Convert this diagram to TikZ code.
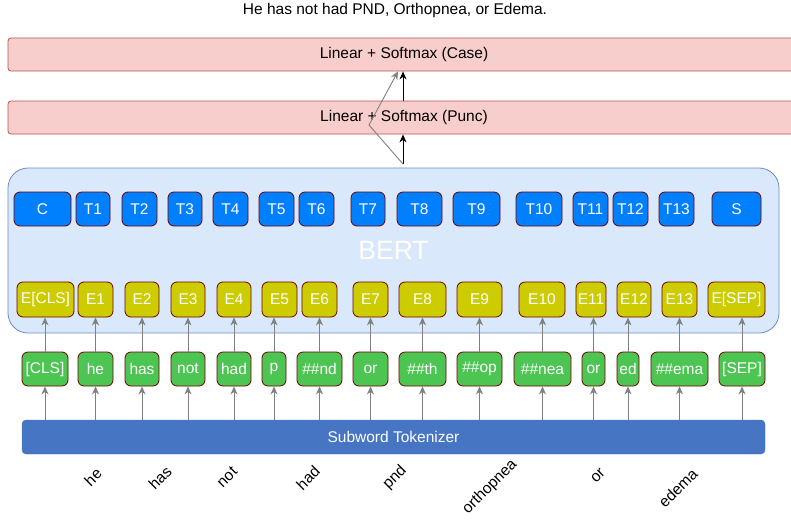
\documentclass[tikz,border=0pt]{standalone}
\usepackage{fontspec}
\setmainfont{Liberation Sans}
\usepackage{xcolor}
\usetikzlibrary{arrows.meta}

\begin{document}
\begin{tikzpicture}[x=1pt,y=-1pt,font=\fontsize{15.5}{18}\selectfont,
  tok/.style={draw=boxline,line width=0.8pt,rounded corners=6pt,text=white,inner sep=0pt},
  tbox/.style={tok,fill=tblue,minimum height=34pt},
  ebox/.style={tok,fill=eyellow,minimum height=35pt},
  gbox/.style={tok,fill=ggreen,minimum height=34pt},
  head/.style={draw=pinkline,fill=pinkfill,line width=0.8pt,rounded corners=3pt,minimum width=792pt,minimum height=33pt},
  garrow/.style={draw=arrowgray,line width=0.9pt,-{Stealth[length=8pt,width=7pt,inset=2.5pt]}},
  karrow/.style={draw=black,line width=0.9pt,-{Stealth[length=8pt,width=7pt,inset=2.5pt]}}]
% Define diagram colours
\definecolor{tblue}{HTML}{007FFF}
\definecolor{eyellow}{HTML}{CCCC00}
\definecolor{ggreen}{HTML}{4CC552}
\definecolor{boxline}{HTML}{6F0000}
\definecolor{tokblue}{HTML}{4675C4}
\definecolor{bertfill}{HTML}{DAE8FC}
\definecolor{bertline}{HTML}{6C8EBF}
\definecolor{pinkfill}{HTML}{F8CECC}
\definecolor{pinkline}{HTML}{B85450}
\definecolor{arrowgray}{HTML}{808080}
\clip (0,0) rectangle (791,522);

% Sentence and output heads
\node (title) at (395,10) {He has not had PND, Orthopnea, or Edema.};
\node[head] (case) at (404,54.5) {Linear + Softmax (Case)};
\node[head] (punc) at (404,117.5) {Linear + Softmax (Punc)};

% BERT block
\node[draw=bertline,fill=bertfill,line width=0.8pt,rounded corners=20pt,minimum width=771pt,minimum height=165pt,
  text=white,font=\fontsize{26.5}{30}\selectfont] (bert) at (393.5,250.5) {BERT};

% Output tokens
\foreach \n/\lab/\xa/\xb in {t0/C/14/71, t1/T1/76/110, t2/T2/122/157, t3/T3/168/202, t4/T4/213/248,
  t5/T5/259/294, t6/T6/299/334, t7/T7/351/385, t8/T8/397/442, t9/T9/453/500, t10/T10/516/562,
  t11/T11/573/608, t12/T12/613/648, t13/T13/659/694, t14/S/712/761}
  \node[tbox,minimum width=\xb-\xa] (\n) at ({(\xa+\xb)/2},209) {\lab};

% Embeddings
\foreach \n/\lab/\xa/\xb in {e0/E[CLS]/17/74, e1/E1/78/113, e2/E2/125/159, e3/E3/171/205, e4/E4/217/251,
  e5/E5/262/297, e6/E6/302/337, e7/E7/353/388, e8/E8/399/446, e9/E9/457/502, e10/E10/519/565,
  e11/E11/576/606, e12/E12/617/651, e13/E13/662/697, e14/E[SEP]/708/765}
  \node[ebox,minimum width=\xb-\xa] (\n) at ({(\xa+\xb)/2},299.5) {\lab};

% Subword tokens
\foreach \n/\lab/\xa/\xb in {g0/[CLS]/22/68, g1/he/78/113, g2/has/125/159, g3/not/171/205, g4/had/217/251,
  g5/p/262/286, g6/\#\#nd/297/342, g7/or/353/388, g8/\#\#th/399/446, g9/\#\#op/457/502, g10/\#\#nea/514/571,
  g11/or/582/605, g12/ed/617/639, g13/\#\#ema/651/708, g14/[SEP]/719/765}
  \node[gbox,minimum width=\xb-\xa] (\n) at ({(\xa+\xb)/2},369) {\lab};

% Tokenizer
\node[draw=tokblue,fill=tokblue,rounded corners=4pt,minimum width=743pt,minimum height=34pt,text=white] (tokenizer) at (393.5,437) {Subword Tokenizer};

% Input words
\foreach \n/\lab/\x/\y in {w1/he/93/477, w2/has/160/478, w3/not/227/477, w4/had/308/478,
  w5/pnd/395/478, w6/orthopnea/490/487, w7/or/598/476, w8/edema/678/488}
  \node[rotate=45] (\n) at (\x,\y) {\lab};

% Draw connections
\foreach \i in {0,...,14} {
  \draw[garrow] (g\i.south |- tokenizer.north) -- (g\i.south);
  \draw[garrow] (g\i.north) -- (g\i.north |- e\i.south);
}
\coordinate (out) at (403,164);
\coordinate (bend) at (369,125);
\draw[karrow] (out) -- (out |- punc.south);
\draw[karrow] (out |- punc.north) -- (out |- case.south);
\draw[garrow] (out) -- (bend) -- ([xshift=-5pt]out |- case.south);
\end{tikzpicture}
\end{document}
